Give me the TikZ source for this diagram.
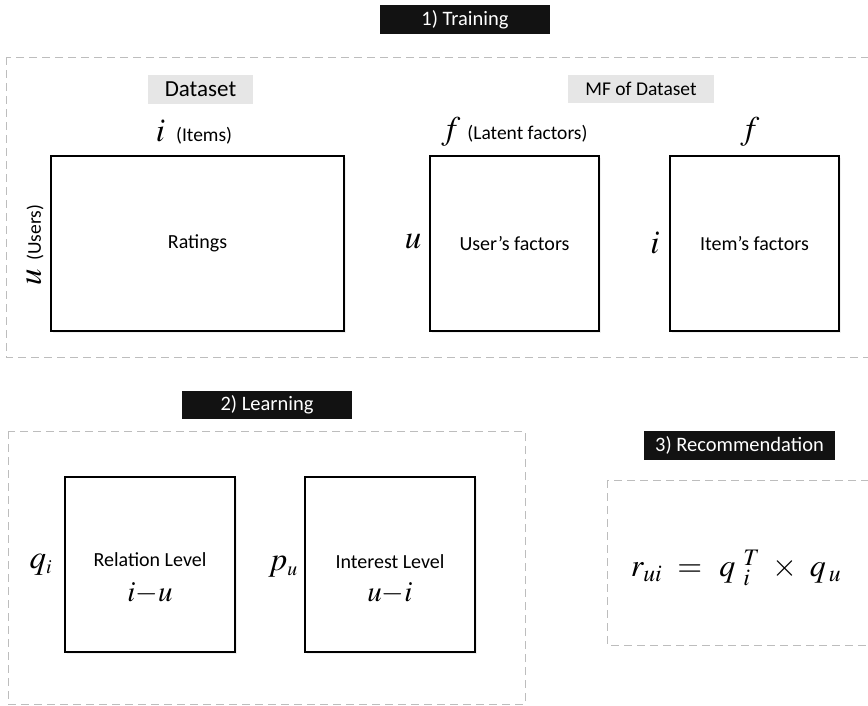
\documentclass[tikz,border=0pt]{standalone}
\usepackage{mathptmx}
\usepackage{fontspec}
\setmainfont{Carlito}
\usetikzlibrary{shadows}

\definecolor{tagdark}{HTML}{121212}
\definecolor{taglight}{HTML}{E6E6E6}
\definecolor{framegray}{HTML}{BDBDBD}

\begin{document}
\begin{tikzpicture}[x=1pt,y=1pt,
    frame/.style={draw=framegray, line width=1pt, dash pattern=on 8pt off 5pt},
    darktag/.style={fill=tagdark, text=white, inner sep=0pt, font=\fontsize{20.5}{24}\selectfont},
    lighttag/.style={fill=taglight, inner sep=0pt},
    matbox/.style={draw=black, line width=1.5pt, fill=white, inner sep=0pt, minimum height=175,
      font=\fontsize{20}{24}\selectfont,
      drop shadow={opacity=0.12, shadow xshift=1.5pt, shadow yshift=-1.5pt}},
    lbl/.style={inner sep=0pt, font=\fontsize{19.5}{22}\selectfont},
    sym/.style={inner sep=0pt, font=\fontsize{33}{36}\selectfont}]
  \useasboundingbox (0,0) rectangle (868,-705);

  % dashed frames of the three stages
  \draw [frame] (6,-57) rectangle (885,-357);
  \draw [frame] (8,-431) rectangle (525,-704);
  \draw [frame] (607,-480) rectangle (885,-645);

  % stage titles
  \node [darktag, minimum width=170, minimum height=29] (training) at (465,-19.5) {1) Training};
  \node [darktag, minimum width=170, minimum height=28] (learning) at (267,-405) {2) Learning};
  \node [darktag, minimum width=191, minimum height=29] (recommend) at (739.5,-445.5) {3) Recommendation};

  % 1) training
  \node [lighttag, minimum width=105, minimum height=29, font=\fontsize{23}{26}\selectfont] (dataset) at (200.5,-89.5) {Dataset};
  \node [lighttag, minimum width=146, minimum height=28, font=\fontsize{19.5}{22}\selectfont] (mfdata) at (641,-89) {MF of Dataset};

  \node [matbox, minimum width=293] (ratings) at (197.5,-243.5) {Ratings};
  \node [matbox, minimum width=169] (userf) at (514.5,-243.5) {User’s factors};
  \node [matbox, minimum width=169] (itemf) at (754.5,-243.5) {Item’s factors};

  \node [lbl] (itemsl) at (194,-132) {{\fontsize{33}{36}\selectfont$i$}\hspace{11pt}(Items)};
  \node [lbl, rotate=90] (usersl) at (35,-245) {{\fontsize{33}{36}\selectfont$u$}\hspace{8pt}(Users)};
  \node [lbl] (latentl) at (514.5,-132) {{\fontsize{33}{36}\selectfont$f$}\hspace{7pt}(Latent factors)};
  \node [sym] (fitem) at (750,-132) {$f$};
  \node [sym] (uuser) at (413,-242) {$u$};
  \node [sym] (iitem) at (655,-243) {$i$};

  % 2) learning
  \node [matbox, minimum width=170] (relation) at (150,-564.5) {};
  \node [matbox, minimum width=170] (interest) at (390,-564.5) {};
  \node [lbl, font=\fontsize{20}{24}\selectfont] (reltitle) at (150,-560) {Relation Level};
  \node [sym, font=\fontsize{29}{32}\selectfont] (relpair) at (150,-593) {$i{-}u$};
  \node [lbl, font=\fontsize{20}{24}\selectfont] (inttitle) at (390,-562) {Interest Level};
  \node [sym, font=\fontsize{29}{32}\selectfont] (intpair) at (390,-593) {$u{-}i$};
  \node [sym] (qi) at (41,-565) {$q_{\scriptscriptstyle i}$};
  \node [sym] (pu) at (283,-567) {$p_{\scriptscriptstyle u}$};

  % 3) recommendation
  \node [sym, font=\fontsize{32}{36}\selectfont] (score) at (736,-568)
    {$r_{ui}\hspace{8pt}=\hspace{10pt}q^{\hspace{8pt}T}_{\hspace{8pt}i}\hspace{8pt}\times\hspace{8pt}q_{\hspace{3pt}u}$};
\end{tikzpicture}
\end{document}
